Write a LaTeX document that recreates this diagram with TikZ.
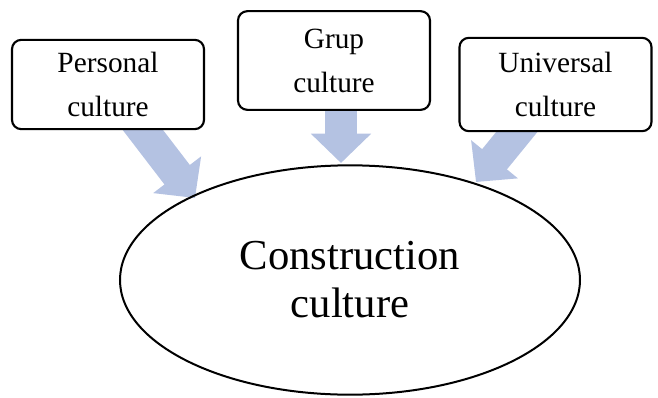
\documentclass[tikz,border=0pt]{standalone}
\usepackage{fontspec}
\setmainfont{Liberation Serif}
\usetikzlibrary{shapes.geometric,arrows.meta,backgrounds}
\definecolor{flowblue}{RGB}{180,194,226}
\begin{document}
\begin{tikzpicture}
        [x=0.75pt,y=-0.75pt,
        box/.style={draw=black, line width=1.6pt, rounded corners=7pt, fill=white,
            align=center, inner sep=0pt, minimum width=144pt,
            font=\fontsize{22}{33}\selectfont},
        blob/.style={ellipse, draw=black, line width=1.5pt, align=center,
            inner sep=0pt, minimum width=345pt, minimum height=172pt,
            font=\fontsize{32}{36}\selectfont},
        flow/.style={draw=flowblue, line width=24pt,
            -{Triangle[length=22pt,width=44pt]}}]
    \useasboundingbox (0,0) rectangle (658,397);
    \node[box, minimum height=67pt] (personal) at (108,84.5) {Personal\\culture};
    \node[box, minimum height=74pt] (grup) at (334,60.5) {Grup\\culture};
    \node[box, minimum height=70pt] (universal) at (555.5,84.5) {Universal\\culture};
    \node[blob] (construction) at (350,280) {Construction\\culture};
    \coordinate (ptip) at (195,198);
    \coordinate (gtip) at (341,163);
    \coordinate (utip) at (476,182);
    \begin{pgfonlayer}{background}
        \draw[flow] (personal.center) -- (ptip);
        \draw[flow] (gtip |- grup.center) -- (gtip);
        \draw[flow] (universal.center) -- (utip);
    \end{pgfonlayer}
\end{tikzpicture}
\end{document}
